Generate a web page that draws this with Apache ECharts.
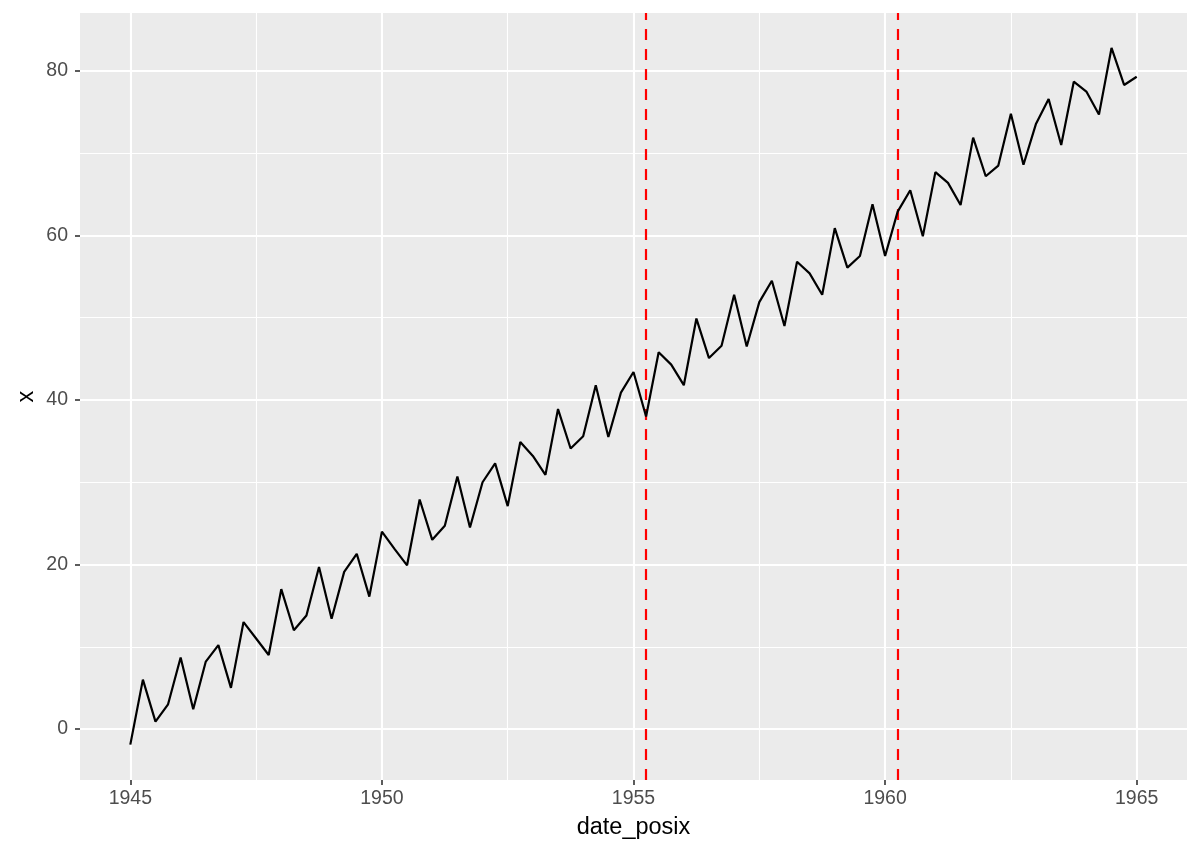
<!DOCTYPE html>
<html>
<head>
<meta charset="utf-8">
<script src="https://cdn.jsdelivr.net/npm/echarts@6/dist/echarts.min.js"></script>
<style>html,body{margin:0;padding:0;background:#fff}#c{width:1200px;height:857px}</style>
</head>
<body>
<div id="c"></div>
<script>
// Quarterly series, 1945 Q1 .. 1965 Q1
const startYear = 1945;
const values = [
  -1.9, 6.0, 0.9, 3.0,
  8.7, 2.4, 8.2, 10.2,
  5.0, 13.0, 11.0, 9.0,
  17.0, 12.0, 13.8, 19.7,
  13.4, 19.1, 21.3, 16.1,
  24.0, 21.9, 19.9, 27.9,
  23.0, 24.7, 30.7, 24.5,
  30.0, 32.3, 27.1, 34.9,
  33.2, 30.9, 38.9, 34.1,
  35.6, 41.8, 35.5, 40.9,
  43.4, 38.0, 45.8, 44.3,
  41.8, 49.9, 45.1, 46.6,
  52.8, 46.5, 51.9, 54.5,
  49.0, 56.8, 55.4, 52.8,
  60.9, 56.1, 57.5, 63.8,
  57.5, 62.9, 65.5, 59.9,
  67.7, 66.4, 63.7, 71.9,
  67.2, 68.5, 74.8, 68.6,
  73.6, 76.6, 71.0, 78.7,
  77.5, 74.7, 82.8, 78.3,
  79.3
];
const dates = values.map((v, i) => startYear + i / 4);
const vlines = [1955.25, 1960.25];
const xTicks = [1945, 1950, 1955, 1960, 1965];
const xMinor = [1947.5, 1952.5, 1957.5, 1962.5];
const yTicks = [0, 20, 40, 60, 80];
const yMinor = [10, 30, 50, 70];

const chart = echarts.init(document.getElementById('c'), null, {renderer: 'canvas'});
const font = '"Liberation Sans", Arial, Helvetica, sans-serif';
const gridLines = [];
xMinor.forEach(v => gridLines.push({xAxis: v, lineStyle: {color: '#fff', width: 1.1, type: 'solid'}}));
yMinor.forEach(v => gridLines.push({yAxis: v, lineStyle: {color: '#fff', width: 1.1, type: 'solid'}}));
xTicks.forEach(v => gridLines.push({xAxis: v, lineStyle: {color: '#fff', width: 2.1, type: 'solid'}}));
yTicks.forEach(v => gridLines.push({yAxis: v, lineStyle: {color: '#fff', width: 2.1, type: 'solid'}}));

chart.setOption({
  animation: false,
  grid: {left: 80, right: 13, top: 13, bottom: 77, show: true, backgroundColor: '#EBEBEB', borderWidth: 0},
  xAxis: {
    type: 'value', min: 1944, max: 1966,
    axisLine: {show: true, onZero: false, lineStyle: {color: 'rgba(0,0,0,0)'}},
    axisTick: {show: true, customValues: xTicks, length: 5, lineStyle: {color: '#333', width: 1.6}},
    axisLabel: {customValues: xTicks, color: '#4D4D4D', fontSize: 19.5, fontFamily: font, margin: 9,
      formatter: v => String(v)},
    splitLine: {show: false},
    name: 'date_posix', nameLocation: 'middle', nameGap: 36,
    nameTextStyle: {color: '#000', fontSize: 23.5, fontFamily: font}
  },
  yAxis: {
    type: 'value', min: -6.2, max: 87.05,
    axisLine: {show: true, onZero: false, lineStyle: {color: 'rgba(0,0,0,0)'}},
    axisTick: {show: true, customValues: yTicks, length: 5, lineStyle: {color: '#333', width: 1.6}},
    axisLabel: {customValues: yTicks, color: '#4D4D4D', fontSize: 19.5, fontFamily: font, margin: 12,
      formatter: v => String(v)},
    splitLine: {show: false},
    name: 'x', nameLocation: 'middle', nameGap: 41, nameRotate: 90, nameMoveOverlap: false,
    nameTextStyle: {color: '#000', fontSize: 23.5, fontFamily: font}
  },
  series: [
    {
      type: 'line', data: [], zlevel: 0, z: 1, silent: true,
      markLine: {silent: true, symbol: 'none', label: {show: false}, animation: false, data: gridLines}
    },
    {
      type: 'line', zlevel: 1, z: 3, showSymbol: false, symbol: 'none', silent: true,
      data: dates.map((d, i) => [d, values[i]]),
      lineStyle: {color: '#000', width: 2.2}
    },
    {
      type: 'line', data: [], zlevel: 1, z: 4, silent: true,
      markLine: {silent: true, symbol: 'none', label: {show: false}, animation: false,
        lineStyle: {color: '#FF0000', width: 2.2, type: [11, 9]},
        data: vlines.map(v => ({xAxis: v}))}
    }
  ]
});
</script>
</body>
</html>
